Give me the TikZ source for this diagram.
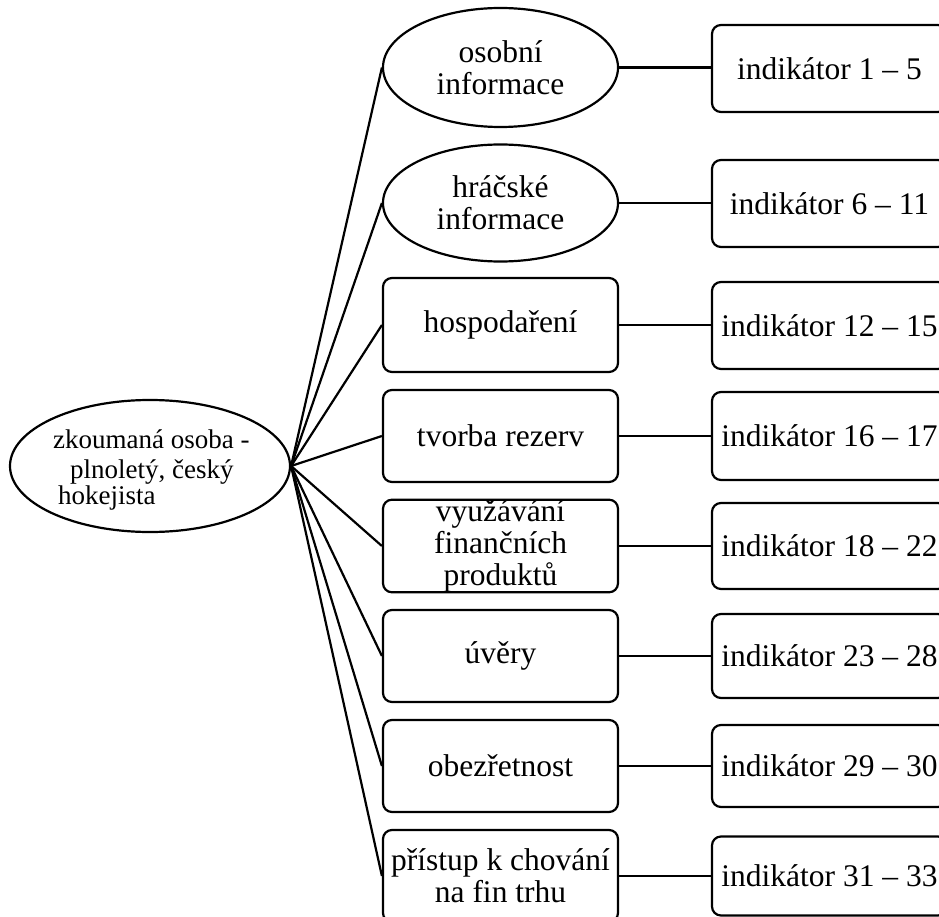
\documentclass[tikz,border=0pt]{standalone}
\usepackage{fontspec}
\setmainfont{Liberation Serif}
\usetikzlibrary{shapes.geometric}
\begin{document}
\begin{tikzpicture}[x=1pt,y=-1pt,
  big/.style={font=\fontsize{31.5}{32}\selectfont},
  small/.style={font=\fontsize{27}{30}\selectfont, inner sep=0pt, anchor=base west},
  conn/.style={line width=2.2pt},
  ell/.style={ellipse, draw, line width=2.2pt, inner sep=0pt, align=center, big},
  mid/.style={draw, rounded corners=9pt, line width=2.2pt, inner sep=0pt, minimum width=235pt, align=center, big},
  ind/.style={draw, rounded corners=9pt, line width=2.2pt, inner sep=0pt, minimum width=235pt, big}]
\useasboundingbox (0,0) rectangle (939,917);
\clip (0,0) rectangle (939,917);
\fill[white] (0,0) rectangle (939,917);

% root
\node[ellipse, draw, line width=2.2pt, minimum width=280pt, minimum height=132pt, inner sep=0pt] (root) at (150,466) {};
\node[small] (rt1) at (53,448) {zkoumaná osoba -};
\node[small] (rt2) at (70,478) {plnoletý, český};
\node[small] (rt3) at (58,504) {hokejista};

% middle column
\node[ell, minimum width=235pt, minimum height=119pt] (m1) at (500.5,67.5) {osobní\\informace};
\node[ell, minimum width=235pt, minimum height=117pt] (m2) at (500.5,203) {hráčské\\informace};
\node[mid, minimum height=94pt] (m3) at (500.5,325) {hospodaření};
\node[mid, minimum height=92pt] (m4) at (500.5,436) {tvorba rezerv};
\node[mid, minimum height=92pt] (m5) at (500.5,546) {využávání\\finančních\\produktů};
\node[mid, minimum height=92pt] (m6) at (500.5,656) {úvěry};
\node[mid, minimum height=92pt] (m7) at (500.5,766) {obezřetnost};
\node[mid, minimum height=92pt] (m8) at (500.5,876) {přístup k chování\\na fin trhu};

% right column
\node[ind, minimum height=87pt] (r1) at (829.5,68.5) {indikátor 1 – 5};
\node[ind, minimum height=87pt] (r2) at (829.5,203.5) {indikátor 6 – 11};
\node[ind, minimum height=87pt] (r3) at (829.5,325.5) {indikátor 12 – 15};
\node[ind, minimum height=88pt] (r4) at (829.5,436) {indikátor 16 – 17};
\node[ind, minimum height=86pt] (r5) at (829.5,546) {indikátor 18 – 22};
\node[ind, minimum height=84pt] (r6) at (829.5,656) {indikátor 23 – 28};
\node[ind, minimum height=82pt] (r7) at (829.5,766) {indikátor 29 – 30};
\node[ind, minimum height=79pt] (r8) at (829.5,876) {indikátor 31 – 33};

\foreach \i in {1,...,8} {
  \draw[conn] (root.east) -- (m\i.west);
  \draw[conn] (m\i.east) -- (m\i.east -| r\i.west);
}
\end{tikzpicture}
\end{document}
